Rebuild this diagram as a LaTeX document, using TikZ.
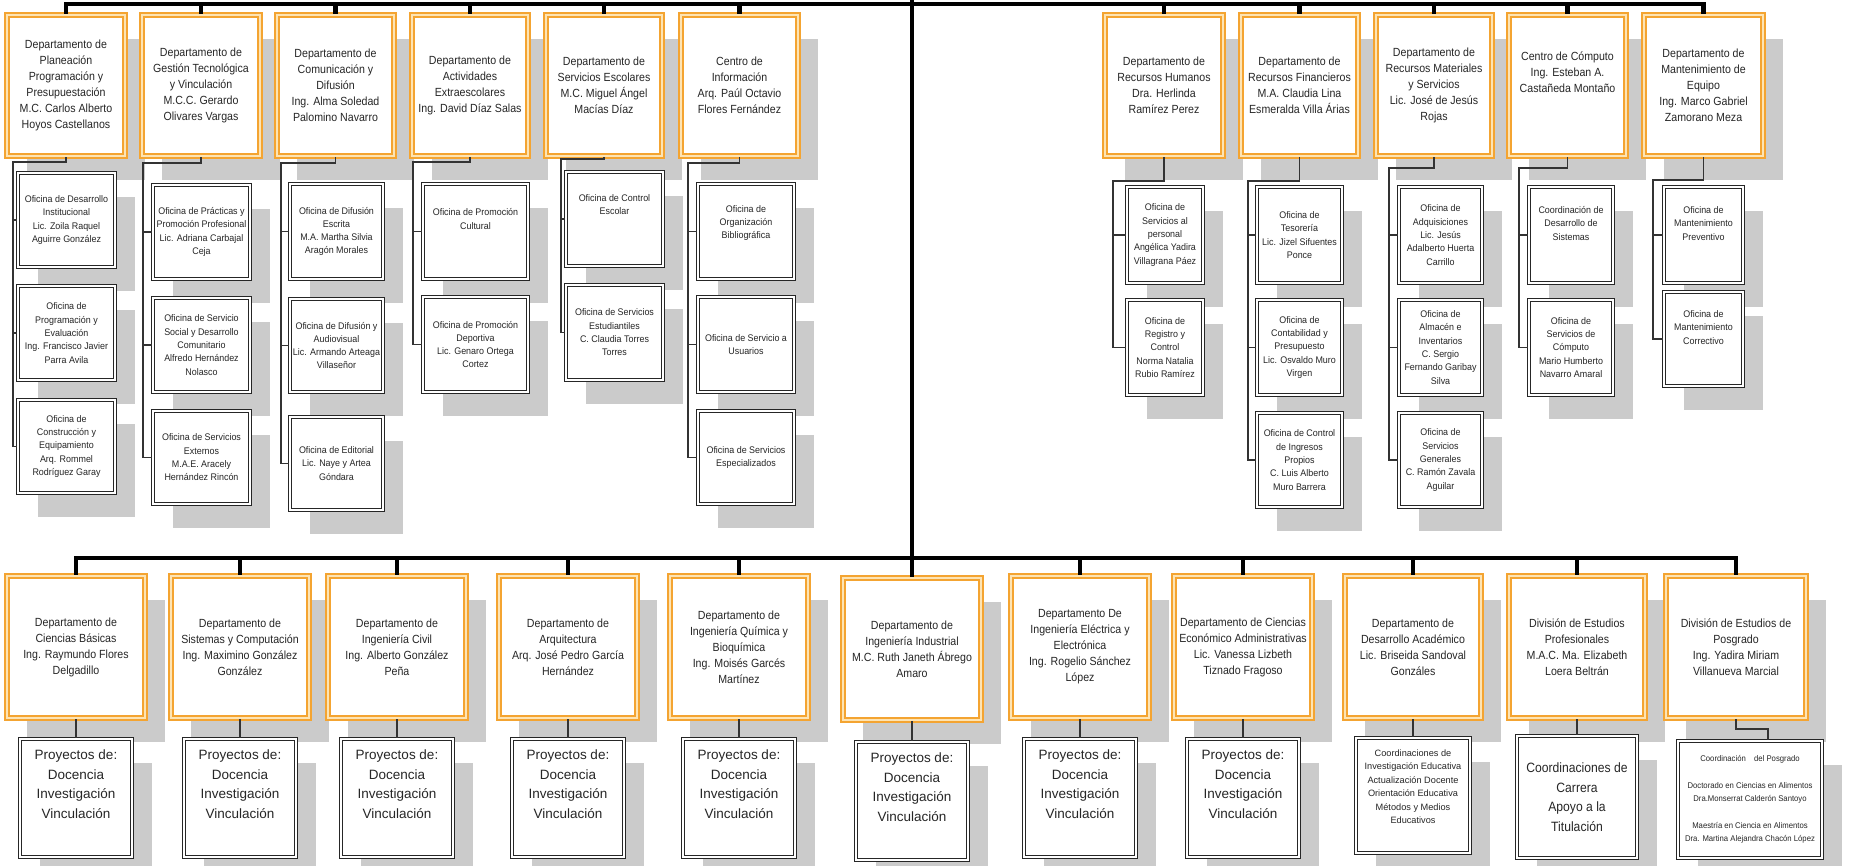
\documentclass[tikz,border=0pt]{standalone}
\usepackage{fontspec}
\usetikzlibrary{calc}
\newfontfamily\lsN[FakeStretch=0.9]{Liberation Sans}
\newfontfamily\lsS[FakeStretch=0.93]{Liberation Sans}
\newfontfamily\lsW{Liberation Sans}
\newcommand{\fTop}{\lsN\fontsize{11.8}{16}\selectfont}
\newcommand{\fSub}{\lsS\fontsize{9.6}{13.3}\selectfont}
\newcommand{\fBig}{\lsW\fontsize{13.5}{19.5}\selectfont}
\newcommand{\fCrd}{\lsN\fontsize{13.5}{19.5}\selectfont}
\newcommand{\fMid}{\lsW\fontsize{9.2}{13.5}\selectfont}
\newcommand{\fTiny}{\lsS\fontsize{8.3}{13.4}\selectfont}
\definecolor{orangeC}{HTML}{F4A431}
\definecolor{orangeL}{HTML}{FDE4B4}
\definecolor{shadowC}{HTML}{CBCBCB}
\definecolor{connC}{HTML}{333333}
\definecolor{txtC}{HTML}{262626}
\pgfdeclarelayer{bg}\pgfsetlayers{bg,main}
\newcommand{\dbox}[7]{%
  \node[#1, minimum width={#5-#3}, minimum height={#6-#4}] (#2) at ({(#3+#5)/2},{(#4+#6)/2}) {#7};
  \begin{pgfonlayer}{bg}\fill[shadowC] ({#3+20},{#4+24}) rectangle ({#5+20},{#6+24});\end{pgfonlayer}}
\begin{document}
\begin{tikzpicture}[x=1pt,y=-1pt,
  obox/.style={draw=orangeC, line width=2.6pt, double=orangeL, double distance=1.4pt, fill=white, align=center, inner sep=1pt, text=txtC, font=\fTop},
  sbox/.style={draw=black!85, line width=1.2pt, double=white, double distance=2.4pt, fill=white, align=center, inner sep=1pt, text=txtC, font=\fSub},
  pbox/.style={sbox, font=\fBig},
  cbox/.style={sbox, font=\fCrd},
  mbox/.style={sbox, font=\fMid},
  tbox/.style={sbox, font=\fTiny},
  bar/.style={line width=4.5pt, draw=black},
  conn/.style={line width=1.8pt, draw=connC}]
\useasboundingbox (0,0) rectangle (1850,866);

% ---------- top-left departments ----------
\dbox{obox}{t1}{7}{15}{125}{156}{Departamento de\\Planeación\\Programación y\\Presupuestación\\M.C. Carlos Alberto\\Hoyos Castellanos}
\dbox{obox}{t2}{142}{15}{260}{156}{Departamento de\\Gestión Tecnológica\\y Vinculación\\M.C.C. Gerardo\\Olivares Vargas}
\dbox{obox}{t3}{277}{15}{394}{156}{Departamento de\\Comunicación y\\Difusión\\Ing. Alma Soledad\\Palomino Navarro}
\dbox{obox}{t4}{412}{15}{528}{156}{Departamento de\\Actividades\\Extraescolares\\Ing. David Díaz Salas}
\dbox{obox}{t5}{546}{15}{662}{156}{Departamento de\\Servicios Escolares\\M.C. Miguel Ángel\\Macías Díaz}
\dbox{obox}{t6}{681}{15}{798}{156}{Centro de\\Información\\Arq. Paúl Octavio\\Flores Fernández}
% ---------- top-right departments ----------
\dbox{obox}{t7}{1105}{15}{1223}{156}{Departamento de\\Recursos Humanos\\Dra. Herlinda\\Ramírez Perez}
\dbox{obox}{t8}{1241}{15}{1358}{156}{Departamento de\\Recursos Financieros\\M.A. Claudia Lina\\Esmeralda Villa Árias}
\dbox{obox}{t9}{1376}{15}{1492}{156}{Departamento de\\Recursos Materiales\\y Servicios\\Lic. José de Jesús\\Rojas}
\dbox{obox}{t10}{1509}{15}{1626}{156}{Centro de Cómputo\\Ing. Esteban A.\\Castañeda Montaño\\[10pt]}
\dbox{obox}{t11}{1644}{15}{1763}{156}{Departamento de\\Mantenimiento de\\Equipo\\Ing. Marco Gabriel\\Zamorano Meza}

% ---------- offices, left ----------
\dbox{sbox}{s1a}{18}{173}{115}{267}{Oficina de Desarrollo\\Institucional\\Lic. Zoila Raquel\\Aguirre González}
\dbox{sbox}{s1b}{18}{286}{115}{380}{Oficina de\\Programación y\\Evaluación\\Ing. Francisco Javier\\Parra Avila}
\dbox{sbox}{s1c}{18}{400}{115}{493}{Oficina de\\Construcción y\\Equipamiento\\Arq. Rommel\\Rodríguez Garay}
\dbox{sbox}{s2a}{153}{185}{250}{279}{Oficina de Prácticas y\\Promoción Profesional\\Lic. Adriana Carbajal\\Ceja}
\dbox{sbox}{s2b}{153}{298}{250}{392}{Oficina de Servicio\\Social y Desarrollo\\Comunitario\\Alfredo Hernández\\Nolasco}
\dbox{sbox}{s2c}{153}{411}{250}{504}{Oficina de Servicios\\Externos\\M.A.E. Aracely\\Hernández Rincón}
\dbox{sbox}{s3a}{290}{184}{383}{279}{Oficina de Difusión\\Escrita\\M.A. Martha Silvia\\Aragón Morales}
\dbox{sbox}{s3b}{290}{299}{383}{392}{Oficina de Difusión y\\Audiovisual\\Lic. Armando Arteaga\\Villaseñor}
\dbox{sbox}{s3c}{290}{417}{383}{510}{Oficina de Editorial\\Lic. Naye y Artea\\Góndara}
\dbox{sbox}{s4a}{423}{184}{528}{279}{Oficina de Promoción\\Cultural\\[12pt]}
\dbox{sbox}{s4b}{423}{297}{528}{392}{Oficina de Promoción\\Deportiva\\Lic. Genaro Ortega\\Cortez}
\dbox{sbox}{s5a}{566}{172}{663}{266}{Oficina de Control\\Escolar\\[16pt]}
\dbox{sbox}{s5b}{566}{285}{663}{380}{Oficina de Servicios\\Estudiantiles\\C. Claudia Torres\\Torres}
\dbox{sbox}{s6a}{698}{184}{794}{279}{Oficina de\\Organización\\Bibliográfica\\[6pt]}
\dbox{sbox}{s6b}{698}{297}{794}{392}{Oficina de Servicio a\\Usuarios}
\dbox{sbox}{s6c}{698}{411}{794}{504}{Oficina de Servicios\\Especializados}
% ---------- offices, right ----------
\dbox{sbox}{s7a}{1127}{187}{1203}{283}{Oficina de\\Servicios al\\personal\\Angélica Yadira\\Villagrana Páez}
\dbox{sbox}{s7b}{1127}{300}{1203}{395}{Oficina de\\Registro y\\Control\\Norma Natalia\\Rubio Ramírez}
\dbox{sbox}{s8a}{1257}{187}{1342}{283}{Oficina de\\Tesorería\\Lic. Jizel Sifuentes\\Ponce}
\dbox{sbox}{s8b}{1257}{300}{1342}{395}{Oficina de\\Contabilidad y\\Presupuesto\\Lic. Osvaldo Muro\\Virgen}
\dbox{sbox}{s8c}{1257}{413}{1342}{507}{Oficina de Control\\de Ingresos\\Propios\\C. Luis Alberto\\Muro Barrera}
\dbox{sbox}{s9a}{1399}{187}{1482}{283}{Oficina de\\Adquisiciones\\Lic. Jesús\\Adalberto Huerta\\Carrillo}
\dbox{sbox}{s9b}{1399}{300}{1482}{395}{Oficina de\\Almacén e\\Inventarios\\C. Sergio\\Fernando Garibay\\Silva}
\dbox{sbox}{s9c}{1399}{413}{1482}{507}{Oficina de\\Servicios\\Generales\\C. Ramón Zavala\\Aguilar}
\dbox{sbox}{s10a}{1529}{187}{1613}{283}{Coordinación de\\Desarrollo de\\Sistemas\\[10pt]}
\dbox{sbox}{s10b}{1529}{300}{1613}{395}{Oficina de\\Servicios de\\Cómputo\\Mario Humberto\\Navarro Amaral}
\dbox{sbox}{s11a}{1664}{187}{1743}{283}{Oficina de\\Mantenimiento\\Preventivo\\[10pt]}
\dbox{sbox}{s11b}{1664}{292}{1743}{386}{Oficina de\\Mantenimiento\\Correctivo\\[10pt]}

% ---------- bottom departments ----------
\dbox{obox}{b1}{7}{576}{145}{718}{Departamento de\\Ciencias Básicas\\Ing. Raymundo Flores\\Delgadillo}
\dbox{obox}{b2}{171}{576}{309}{718}{Departamento de\\Sistemas y Computación\\Ing. Maximino González\\González}
\dbox{obox}{b3}{328}{576}{466}{718}{Departamento de\\Ingeniería Civil\\Ing. Alberto González\\Peña}
\dbox{obox}{b4}{499}{576}{637}{718}{Departamento de\\Arquitectura\\Arq. José Pedro García\\Hernández}
\dbox{obox}{b5}{670}{576}{808}{718}{Departamento de\\Ingeniería Química y\\Bioquímica\\Ing. Moisés Garcés\\Martínez}
\dbox{obox}{b6}{843}{578}{981}{720}{Departamento de\\Ingeniería Industrial\\M.C. Ruth Janeth Ábrego\\Amaro}
\dbox{obox}{b7}{1011}{576}{1149}{718}{Departamento De\\Ingeniería Eléctrica y\\Electrónica\\Ing. Rogelio Sánchez\\López}
\dbox{obox}{b8}{1174}{576}{1312}{718}{Departamento de Ciencias\\Económico Administrativas\\Lic. Vanessa Lizbeth\\Tiznado Fragoso}
\dbox{obox}{b9}{1345}{576}{1481}{718}{Departamento de\\Desarrollo Académico\\Lic. Briseida Sandoval\\Gonzáles}
\dbox{obox}{b10}{1509}{576}{1645}{718}{División de Estudios\\Profesionales\\M.A.C. Ma. Elizabeth\\Loera Beltrán}
\dbox{obox}{b11}{1666}{576}{1806}{718}{División de Estudios de\\Posgrado\\Ing. Yadira Miriam\\Villanueva Marcial}

\dbox{pbox}{p1}{20}{739}{132}{857}{Proyectos de:\\Docencia\\Investigación\\Vinculación\\[8pt]}
\dbox{pbox}{p2}{184}{739}{296}{857}{Proyectos de:\\Docencia\\Investigación\\Vinculación\\[8pt]}
\dbox{pbox}{p3}{341}{739}{453}{857}{Proyectos de:\\Docencia\\Investigación\\Vinculación\\[8pt]}
\dbox{pbox}{p4}{512}{739}{624}{857}{Proyectos de:\\Docencia\\Investigación\\Vinculación\\[8pt]}
\dbox{pbox}{p5}{683}{739}{795}{857}{Proyectos de:\\Docencia\\Investigación\\Vinculación\\[8pt]}
\dbox{pbox}{p6}{856}{742}{968}{860}{Proyectos de:\\Docencia\\Investigación\\Vinculación\\[8pt]}
\dbox{pbox}{p7}{1024}{739}{1136}{857}{Proyectos de:\\Docencia\\Investigación\\Vinculación\\[8pt]}
\dbox{pbox}{p8}{1187}{739}{1299}{857}{Proyectos de:\\Docencia\\Investigación\\Vinculación\\[8pt]}
\dbox{mbox}{p9}{1356}{738}{1470}{853}{Coordinaciones de\\Investigación Educativa\\Actualización Docente\\Orientación Educativa\\Métodos y Medios\\Educativos\\[4pt]}
\dbox{cbox}{p10}{1517}{736}{1637}{858}{Coordinaciones de\\Carrera\\Apoyo a la\\Titulación}
\dbox{tbox}{p11}{1678}{741}{1822}{858}{Coordinación\quad del Posgrado\\[13.4pt]Doctorado en Ciencias en Alimentos\\Dra.Monserrat Calderón Santoyo\\[13.4pt]Maestría en Ciencia en Alimentos\\Dra. Martina Alejandra Chacón López}

% ---------- junctions ----------
\coordinate (top0) at (912,0);
\coordinate (hubT) at (912,4);
\coordinate (hubB) at (912,558);
\coordinate (j1) at (13,162);
\coordinate (j2) at (143,163);
\coordinate (j3) at (281,163);
\coordinate (j4) at (413,162);
\coordinate (j5) at (561,159);
\coordinate (j6) at (688,163);
\coordinate (j7) at (1113,181);
\coordinate (j8) at (1248,181);
\coordinate (j9) at (1389,168);
\coordinate (j10) at (1519,168);
\coordinate (j11) at (1653,180);
\coordinate (j12) at (1768,729);

% ---------- main bars ----------
\draw[bar] (top0) -- (b6.north);
\foreach \n in {t1,t2,t3,t4,t5,t6,t7,t8,t9,t10,t11} \draw[bar] (\n.north) |- (hubT);
\foreach \n in {b1,b2,b3,b4,b5,b7,b8,b9,b10,b11} \draw[bar] (\n.north) |- (hubB);

% ---------- department to offices ----------
\draw[conn] (t1.south) |- (j1) |- (s1c.west);
\draw[conn] (j1 |- s1a.west) -- (s1a.west);
\draw[conn] (j1 |- s1b.west) -- (s1b.west);
\draw[conn] (t2.south) |- (j2) |- (s2c.west);
\draw[conn] (j2 |- s2a.west) -- (s2a.west);
\draw[conn] (j2 |- s2b.west) -- (s2b.west);
\draw[conn] (t3.south) |- (j3) |- (s3c.west);
\draw[conn] (j3 |- s3a.west) -- (s3a.west);
\draw[conn] (j3 |- s3b.west) -- (s3b.west);
\draw[conn] (t4.south) |- (j4) |- (s4b.west);
\draw[conn] (j4 |- s4a.west) -- (s4a.west);
\draw[conn] (t5.south) |- (j5) |- (s5b.west);
\draw[conn] (j5 |- s5a.west) -- (s5a.west);
\draw[conn] (t6.south) |- (j6) |- (s6c.west);
\draw[conn] (j6 |- s6a.west) -- (s6a.west);
\draw[conn] (j6 |- s6b.west) -- (s6b.west);
\draw[conn] (t7.south) |- (j7) |- (s7b.west);
\draw[conn] (j7 |- s7a.west) -- (s7a.west);
\draw[conn] (t8.south) |- (j8) |- (s8c.west);
\draw[conn] (j8 |- s8a.west) -- (s8a.west);
\draw[conn] (j8 |- s8b.west) -- (s8b.west);
\draw[conn] (t9.south) |- (j9) |- (s9c.west);
\draw[conn] (j9 |- s9a.west) -- (s9a.west);
\draw[conn] (j9 |- s9b.west) -- (s9b.west);
\draw[conn] (t10.south) |- (j10) |- (s10b.west);
\draw[conn] (j10 |- s10a.west) -- (s10a.west);
\draw[conn] (t11.south) |- (j11) |- (s11b.west);
\draw[conn] (j11 |- s11a.west) -- (s11a.west);

\foreach \a/\b in {b1/p1,b2/p2,b3/p3,b4/p4,b5/p5,b6/p6,b7/p7,b8/p8,b9/p9,b10/p10} \draw[conn] (\a.south) -- (\b.north);
\draw[conn] (b11.south) |- (j12) -- (j12 |- p11.north);
\end{tikzpicture}
\end{document}
